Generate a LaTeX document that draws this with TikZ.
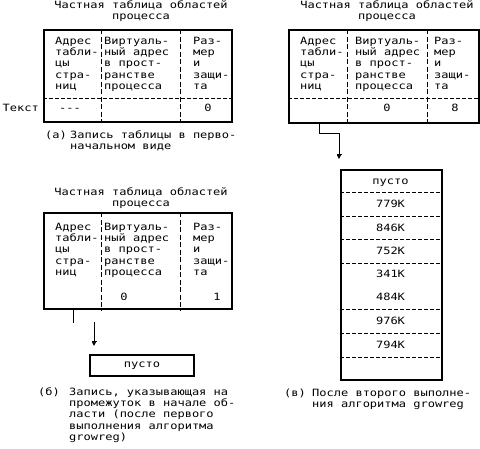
\documentclass[tikz,border=0pt]{standalone}
\usepackage{fontspec}
\setmainfont[FakeStretch=1.2]{DejaVu Sans Mono}
\usetikzlibrary{calc,arrows.meta}

\begin{document}
\begin{tikzpicture}[
  x=1pt, y=-1pt,
  every node/.style={inner sep=0pt, font=\fontsize{10}{11.4}\selectfont},
  tbl/.style={draw, line width=2.2pt, anchor=north west, minimum width=188pt},
  colsep/.style={dash pattern=on 5pt off 2.5pt, line width=0.8pt},
  rowsep/.style={dash pattern=on 4pt off 2pt, line width=0.8pt},
  % multi-line nodes sit on the baseline of their last line
  txt/.style={align=left, anchor=base west},
  ttl/.style={align=center, anchor=base},
  val/.style={anchor=base},
  conn/.style={line width=0.8pt, -{Bar[width=5pt]Triangle[length=4pt,width=4pt]}, shorten >=10pt}
]
\useasboundingbox (0,0) rectangle (480,448);

% (a) table in its first form
\node[tbl, minimum height=92pt] (ta) at (43,29) {};
\draw[colsep] ($(ta.north west)+(58,0)$) -- ($(ta.south west)+(58,0)$);
\draw[colsep] ($(ta.north west)+(137,0)$) -- ($(ta.south west)+(137,0)$);
\draw[rowsep] ($(ta.north west)+(0,69)$) -- ($(ta.north east)+(0,69)$);
\node[ttl] (ta-title) at (141,19.4) {Частная таблица областей\\процесса};
\node[txt] (ta-h1) at (55,89.6) {Адрес\\табли-\\цы\\стра-\\ниц};
\node[txt] (ta-h2) at (104,89.6) {Виртуаль-\\ный адрес\\в прост-\\ранстве\\процесса};
\node[txt] (ta-h3) at (193,89.6) {Раз-\\мер\\и\\защи-\\та};
\node[anchor=base east] (ta-name) at (39,111) {Текст};
\node[val] (ta-v1) at (70,111) {-{}-{}-};
\node[val] (ta-v3) at (208,111) {0};
\node[anchor=base west] (ta-lbl) at (45,138) {(а)};
\node[txt] (ta-cap) at (70,149.4) {Запись таблицы в перво-\\начальном виде};

% (b) gap at the start of the region
\node[tbl, minimum height=96pt] (tb) at (43,212) {};
\draw[colsep] ($(tb.north west)+(58,0)$) -- ($(tb.south west)+(58,0)$);
\draw[colsep] ($(tb.north west)+(137,0)$) -- ($(tb.south west)+(137,0)$);
\node[ttl] (tb-title) at (141,206.4) {Частная таблица областей\\процесса};
\node[txt] (tb-h1) at (55,275.6) {Адрес\\табли-\\цы\\стра-\\ниц};
\node[txt] (tb-h2) at (104,275.6) {Виртуаль-\\ный адрес\\в прост-\\ранстве\\процесса};
\node[txt] (tb-h3) at (193,275.6) {Раз-\\мер\\и\\защи-\\та};
\node[val] (tb-v2) at (124,300) {0};
\node[val] (tb-v3) at (217,300) {1};
\node[draw, line width=2.2pt, minimum width=104pt, minimum height=21pt] (gap) at (142,365.5) {пусто};
\draw[line width=0.8pt] ($(tb.south west)+(30,0)$) -- ++(0,13);
\coordinate (bstart) at (94,322);
\draw[conn, shorten >=8pt] (bstart) -- (bstart |- gap.north);
\node[anchor=base west] (tb-lbl) at (38,395) {(б)};
\node[txt] (tb-cap) at (69,440.6) {Запись, указывающая на\\промежуток в начале об-\\ласти (после первого\\выполнения алгоритма\\growreg)};

% (c) after the second growreg
\node[tbl, minimum width=190pt, minimum height=93pt] (tv) at (288,29) {};
\draw[colsep] ($(tv.north west)+(59,0)$) -- ($(tv.south west)+(59,0)$);
\draw[colsep] ($(tv.north west)+(139,0)$) -- ($(tv.south west)+(139,0)$);
\draw[rowsep] ($(tv.north west)+(0,69)$) -- ($(tv.north east)+(0,69)$);
\node[ttl] (tv-title) at (387,19.4) {Частная таблица областей\\процесса};
\node[txt] (tv-h1) at (300,89.6) {Адрес\\табли-\\цы\\стра-\\ниц};
\node[txt] (tv-h2) at (355,89.6) {Виртуаль-\\ный адрес\\в прост-\\ранстве\\процесса};
\node[txt] (tv-h3) at (434,89.6) {Раз-\\мер\\и\\защи-\\та};
\node[val] (tv-v2) at (387,111) {0};
\node[val] (tv-v3) at (455,111) {8};

\node[draw, line width=2.2pt, anchor=north west, minimum width=101pt, minimum height=210pt] (col) at (340,169) {};
\foreach \yy in {192,216,239,263,309,333,357}
  \draw[rowsep] (col.west |- 0,\yy) -- (col.east |- 0,\yy);
\foreach \t/\yy [count=\i] in {пусто/184, 779K/207, 846K/231, 752K/254, 341K/277, 484K/300, 976K/324, 794K/348}
  \node[val] (c\i) at (390.5,\yy) {\t};
\coordinate (vbend) at (339,133);
\draw[conn] ($(tv.south west)+(31,0)$) |- (vbend) -- (vbend |- col.north);
\node[anchor=base west] (tv-lbl) at (284,396) {(в)};
\node[txt] (tv-cap) at (312,407.4) {После второго выполне-\\ния алгоритма growreg};
\end{tikzpicture}
\end{document}
